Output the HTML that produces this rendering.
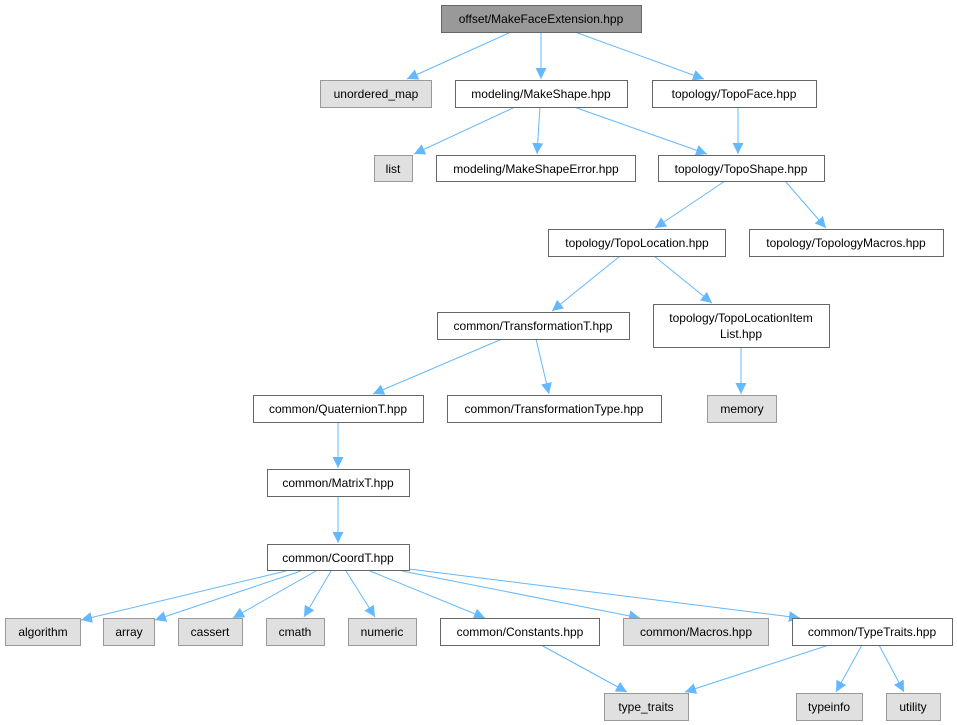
<!DOCTYPE html>
<html><head><meta charset="utf-8"><style>
html,body{margin:0;padding:0;background:#fff;}
svg{display:block;}
text{font-family:"Liberation Sans",Arial,sans-serif;font-size:12px;fill:#000;text-anchor:middle;}
.w{fill:#fff;stroke:#666;stroke-width:1;}
.g{fill:#e0e0e0;stroke:#999;stroke-width:1;}
.m{fill:#999;stroke:#666;stroke-width:1;}
.e{stroke:#63b8ff;stroke-width:1;fill:none;}
</style></head><body>
<svg width="957" height="725" viewBox="0 0 957 725" xmlns="http://www.w3.org/2000/svg">
<defs><marker id="a" viewBox="0 0 10 10" refX="10" refY="5" markerWidth="11" markerHeight="11" markerUnits="userSpaceOnUse" orient="auto"><path d="M0,0 L10,5 L0,10 z" fill="#63b8ff"/></marker></defs>
<g>
<line class="e" marker-end="url(#a)" x1="511" y1="32" x2="407" y2="79"/>
<line class="e" marker-end="url(#a)" x1="541" y1="32" x2="541" y2="79"/>
<line class="e" marker-end="url(#a)" x1="575" y1="32" x2="704" y2="79"/>
<line class="e" marker-end="url(#a)" x1="515" y1="107" x2="414" y2="154"/>
<line class="e" marker-end="url(#a)" x1="540" y1="107" x2="537" y2="154"/>
<line class="e" marker-end="url(#a)" x1="574" y1="107" x2="707" y2="154"/>
<line class="e" marker-end="url(#a)" x1="738" y1="107" x2="738" y2="154"/>
<line class="e" marker-end="url(#a)" x1="725" y1="181" x2="655" y2="228"/>
<line class="e" marker-end="url(#a)" x1="785" y1="181" x2="826" y2="228"/>
<line class="e" marker-end="url(#a)" x1="620" y1="256" x2="552" y2="311"/>
<line class="e" marker-end="url(#a)" x1="654" y1="256" x2="712" y2="303"/>
<line class="e" marker-end="url(#a)" x1="502" y1="339" x2="373" y2="394"/>
<line class="e" marker-end="url(#a)" x1="536" y1="339" x2="549" y2="394"/>
<line class="e" marker-end="url(#a)" x1="741" y1="347" x2="741" y2="394"/>
<line class="e" marker-end="url(#a)" x1="338" y1="422" x2="338" y2="468"/>
<line class="e" marker-end="url(#a)" x1="338" y1="496" x2="338" y2="543"/>
<line class="e" marker-end="url(#a)" x1="286" y1="571" x2="81" y2="620"/>
<line class="e" marker-end="url(#a)" x1="301" y1="571" x2="155" y2="620"/>
<line class="e" marker-end="url(#a)" x1="316" y1="571" x2="233" y2="618"/>
<line class="e" marker-end="url(#a)" x1="331" y1="571" x2="304" y2="617"/>
<line class="e" marker-end="url(#a)" x1="346" y1="571" x2="375" y2="617"/>
<line class="e" marker-end="url(#a)" x1="370" y1="571" x2="485" y2="618"/>
<line class="e" marker-end="url(#a)" x1="402" y1="571" x2="640" y2="618"/>
<line class="e" marker-end="url(#a)" x1="409" y1="569" x2="800" y2="618"/>
<line class="e" marker-end="url(#a)" x1="541" y1="645" x2="627" y2="692"/>
<line class="e" marker-end="url(#a)" x1="829" y1="645" x2="685" y2="692"/>
<line class="e" marker-end="url(#a)" x1="862" y1="645" x2="836" y2="692"/>
<line class="e" marker-end="url(#a)" x1="879" y1="645" x2="904" y2="692"/>
</g>
<rect class="m" x="441.5" y="5.5" width="200" height="27"/><text x="541" y="23">offset/MakeFaceExtension.hpp</text>
<rect class="g" x="320.5" y="80.5" width="111" height="27"/><text x="376" y="98">unordered_map</text>
<rect class="w" x="455.5" y="80.5" width="172" height="27"/><text x="541" y="98">modeling/MakeShape.hpp</text>
<rect class="w" x="652.5" y="80.5" width="164" height="27"/><text x="734" y="98">topology/TopoFace.hpp</text>
<rect class="g" x="374.5" y="155.5" width="38" height="26"/><text x="393" y="173">list</text>
<rect class="w" x="436.5" y="155.5" width="199" height="26"/><text x="536" y="173">modeling/MakeShapeError.hpp</text>
<rect class="w" x="658.5" y="155.5" width="166" height="26"/><text x="741" y="173">topology/TopoShape.hpp</text>
<rect class="w" x="548.5" y="229.5" width="177" height="27"/><text x="637" y="247">topology/TopoLocation.hpp</text>
<rect class="w" x="749.5" y="229.5" width="194" height="27"/><text x="846" y="247">topology/TopologyMacros.hpp</text>
<rect class="w" x="437.5" y="312.5" width="192" height="27"/><text x="533" y="330">common/TransformationT.hpp</text>
<rect class="w" x="653.5" y="304.5" width="176" height="43"/><text x="741" y="322">topology/TopoLocationItem</text><text x="741" y="338">List.hpp</text>
<rect class="w" x="253.5" y="395.5" width="170" height="27"/><text x="338" y="413">common/QuaternionT.hpp</text>
<rect class="w" x="447.5" y="395.5" width="214" height="27"/><text x="554" y="413">common/TransformationType.hpp</text>
<rect class="g" x="707.5" y="395.5" width="69" height="27"/><text x="742" y="413">memory</text>
<rect class="w" x="267.5" y="469.5" width="142" height="27"/><text x="338" y="487">common/MatrixT.hpp</text>
<rect class="w" x="267.5" y="544.5" width="142" height="26"/><text x="338" y="562">common/CoordT.hpp</text>
<rect class="g" x="5.5" y="618.5" width="75" height="27"/><text x="43" y="636">algorithm</text>
<rect class="g" x="103.5" y="618.5" width="51" height="27"/><text x="129" y="636">array</text>
<rect class="g" x="178.5" y="618.5" width="64" height="27"/><text x="210" y="636">cassert</text>
<rect class="g" x="266.5" y="618.5" width="58" height="27"/><text x="295" y="636">cmath</text>
<rect class="g" x="348.5" y="618.5" width="68" height="27"/><text x="382" y="636">numeric</text>
<rect class="w" x="440.5" y="618.5" width="159" height="27"/><text x="520" y="636">common/Constants.hpp</text>
<rect class="g" x="623.5" y="618.5" width="145" height="27"/><text x="696" y="636">common/Macros.hpp</text>
<rect class="w" x="792.5" y="618.5" width="160" height="27"/><text x="872" y="636">common/TypeTraits.hpp</text>
<rect class="g" x="604.5" y="693.5" width="84" height="27"/><text x="646" y="711">type_traits</text>
<rect class="g" x="796.5" y="693.5" width="66" height="27"/><text x="829" y="711">typeinfo</text>
<rect class="g" x="886.5" y="693.5" width="54" height="27"/><text x="913" y="711">utility</text>
</svg>
</body></html>
